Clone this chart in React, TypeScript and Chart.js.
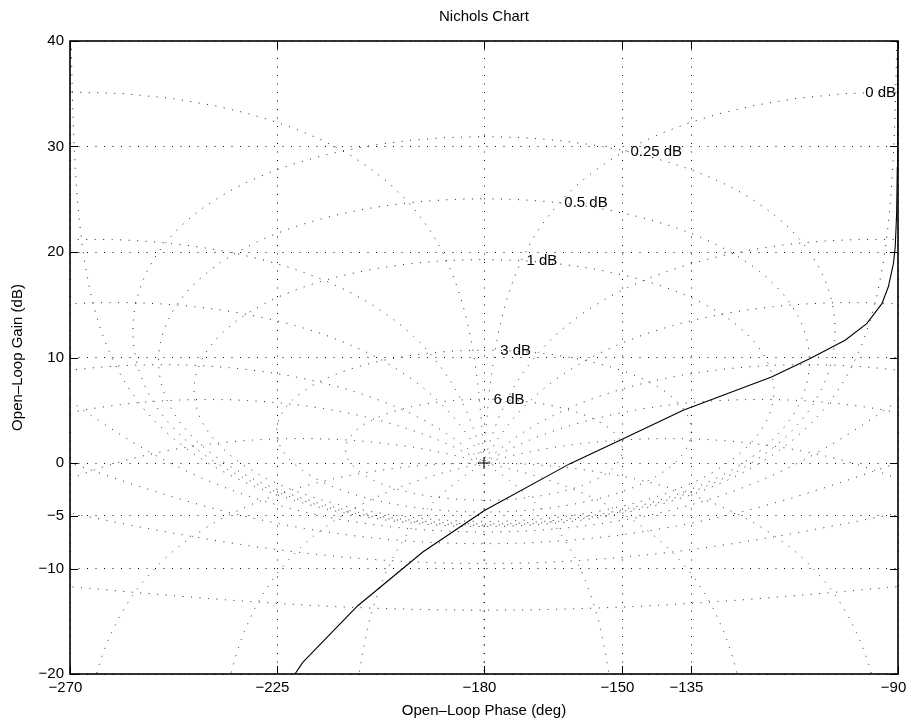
import React, { useEffect, useRef } from "react";
import { Chart, registerables } from "chart.js";

Chart.register(...registerables);

// ---- Axis ticks ----
const phaseTicks = [-270, -225, -180, -150, -135, -90];
const gainTicks = [-20, -10, -5, 0, 10, 20, 30, 40];

// ---- Open-loop response ----
const openLoopPhaseDeg = [-221.1, -219.4, -207.5, -193.3, -179.9, -161.3, -150.2, -136.7, -117.5, -109.1, -101.5, -96.8, -93.5, -92.1, -91.0, -90.6, -90.3, -90.15, -90.05, -90.0];
const openLoopGainDb = [-20.0, -18.9, -13.55, -8.44, -4.5, -0.06, 2.2, 5.0, 8.15, 9.9, 11.63, 13.21, 15.1, 16.7, 18.9, 20.5, 23.6, 28.0, 35.0, 40.0];

// ---- Nichols grid levels ----
const closedLoopGainDb = [6, 3, 1, 0.5, 0.25, 0, -1, -3, -6, -12, -20, -40];
const closedLoopPhaseDeg = [-1, -5, -10, -20, -30, -50, -90, -120, -150, -180];
const labelledGainDb = [6, 3, 1, 0.5, 0.25, 0];
const labelAlongPhaseDeg = -1;

const FONT = '"Liberation Sans", Arial, Helvetica, sans-serif';

type Pt = { x: number; y: number };

function openLoopFromClosed(mag: number, angDeg: number) {
  const a = (angDeg * Math.PI) / 180;
  const tr = mag * Math.cos(a);
  const ti = mag * Math.sin(a);
  const dr = 1 - tr;
  const di = -ti;
  const den = dr * dr + di * di;
  const lr = (tr * dr + ti * di) / den;
  const li = (ti * dr - tr * di) / den;
  return {
    gainDb: 20 * Math.log10(Math.hypot(lr, li)),
    phaseDeg: (Math.atan2(li, lr) * 180) / Math.PI,
  };
}

function toWindow(p: number) {
  let q = p % 360;
  if (q > 0) q -= 360;
  if (q <= -360) q += 360;
  return q;
}

function unwrapNext(prev: number, p: number) {
  let q = p;
  while (q - prev > 180) q -= 360;
  while (q - prev < -180) q += 360;
  return q;
}

function gainContour(db: number): Pt[] {
  const M = Math.pow(10, db / 20);
  const pts: Pt[] = [];
  let prev: number | null = null;
  for (let k = 0; k <= 1440; k++) {
    if (db === 0 && (k === 0 || k === 1440)) continue;
    const th = -k * 0.25;
    const r = openLoopFromClosed(M, th);
    if (!isFinite(r.gainDb) || !isFinite(r.phaseDeg)) continue;
    const ph = prev === null ? toWindow(r.phaseDeg) : unwrapNext(prev, r.phaseDeg);
    prev = ph;
    pts.push({ x: ph, y: r.gainDb });
  }
  return pts;
}

function phaseContour(psi: number): Pt[] {
  const pts: Pt[] = [];
  let prev: number | null = null;
  const N = 4000;
  for (let k = 0; k <= N; k++) {
    const m = Math.pow(10, -3 + (6 * k) / N);
    const r = openLoopFromClosed(m, psi);
    if (!isFinite(r.gainDb) || !isFinite(r.phaseDeg)) continue;
    const ph = prev === null ? toWindow(r.phaseDeg) : unwrapNext(prev, r.phaseDeg);
    prev = ph;
    pts.push({ x: ph, y: r.gainDb });
  }
  return pts;
}

function fmt(v: number) {
  return v < 0 ? "\u2212" + Math.abs(v) : String(v);
}

const decorPlugin = {
  id: "nicholsDecor",
  afterDatasetsDraw(chart: any) {
    const { ctx, chartArea, scales } = chart;
    const xs = scales.x;
    const ys = scales.y;
    ctx.save();
    ctx.beginPath();
    ctx.rect(chartArea.left, chartArea.top, chartArea.right - chartArea.left, chartArea.bottom - chartArea.top);
    ctx.clip();
    ctx.font = "15px " + FONT;
    ctx.fillStyle = "#000";
    ctx.textBaseline = "middle";
    ctx.textAlign = "left";
    for (const db of labelledGainDb) {
      const M = Math.pow(10, db / 20);
      const r = openLoopFromClosed(M, labelAlongPhaseDeg);
      const ph = toWindow(r.phaseDeg);
      const px = xs.getPixelForValue(ph);
      const py = ys.getPixelForValue(r.gainDb);
      if (px < chartArea.left - 1 || px > chartArea.right + 1 || py < chartArea.top || py > chartArea.bottom) continue;
      const text = db + " dB";
      const w = ctx.measureText(text).width;
      let tx = px + 5;
      if (tx + w > chartArea.right - 2) tx = chartArea.right - 2 - w;
      ctx.fillText(text, tx, py + 0.5);
    }
    ctx.restore();
  },
  afterDraw(chart: any) {
    const { ctx, chartArea, scales } = chart;
    const xs = scales.x;
    const ys = scales.y;
    const { left, right, top, bottom } = chartArea;
    ctx.save();
    // inward ticks
    ctx.strokeStyle = "#000";
    ctx.lineWidth = 1;
    ctx.beginPath();
    for (const v of phaseTicks) {
      const px = Math.round(xs.getPixelForValue(v)) + 0.5;
      ctx.moveTo(px, bottom);
      ctx.lineTo(px, bottom - 8);
      ctx.moveTo(px, top);
      ctx.lineTo(px, top + 8);
    }
    for (const v of gainTicks) {
      const py = Math.round(ys.getPixelForValue(v)) + 0.5;
      ctx.moveTo(left, py);
      ctx.lineTo(left + 8, py);
      ctx.moveTo(right, py);
      ctx.lineTo(right - 8, py);
    }
    ctx.stroke();
    // box
    ctx.lineWidth = 1.6;
    ctx.strokeRect(left, top, right - left, bottom - top);
    // titles
    ctx.fillStyle = "#000";
    ctx.font = "15px " + FONT;
    ctx.textAlign = "center";
    ctx.textBaseline = "middle";
    const cx = (left + right) / 2;
    ctx.fillText("Nichols Chart", cx, 16.5);
    ctx.fillText("Open\u2013Loop Phase (deg)", cx, 711);
    ctx.translate(17.5, (top + bottom) / 2);
    ctx.rotate(-Math.PI / 2);
    ctx.fillText("Open\u2013Loop Gain (dB)", 0, 0);
    ctx.restore();
  },
};

export default function App() {
  const ref = useRef<HTMLCanvasElement>(null);

  useEffect(() => {
    const canvas = ref.current;
    if (!canvas) return;

    const gridStyle = {
      borderColor: "rgba(20,20,20,0.95)",
      borderWidth: 1,
      borderDash: [1, 7.5],
      pointRadius: 0,
      showLine: true,
      fill: false,
      tension: 0,
      order: 5,
    };

    const datasets: any[] = [];
    for (const db of closedLoopGainDb) {
      datasets.push({ ...gridStyle, label: db + " dB", data: gainContour(db) });
    }
    for (const psi of closedLoopPhaseDeg) {
      const pts = phaseContour(psi);
      datasets.push({ ...gridStyle, label: psi + " deg", data: pts });
      if (psi !== -180) {
        datasets.push({
          ...gridStyle,
          label: -360 - psi + " deg",
          data: pts.map((p) => ({ x: -360 - p.x, y: p.y })),
        });
      }
    }
    datasets.push({
      label: "open loop",
      data: openLoopPhaseDeg.map((x, i) => ({ x, y: openLoopGainDb[i] })),
      borderColor: "#000",
      borderWidth: 1.1,
      pointRadius: 0,
      showLine: true,
      fill: false,
      tension: 0,
      order: 0,
    });
    datasets.push({
      label: "critical point",
      data: [{ x: -180, y: 0 }],
      pointStyle: "cross",
      pointRadius: 6,
      borderColor: "#000",
      backgroundColor: "#000",
      borderWidth: 1,
      showLine: false,
      order: 1,
    });

    const chart = new Chart(canvas, {
      type: "scatter",
      data: { datasets },
      options: {
        animation: false,
        responsive: false,
        devicePixelRatio: 1,
        events: [],
        layout: { padding: { top: 41, right: 13, left: 0, bottom: 0 } },
        plugins: { legend: { display: false }, tooltip: { enabled: false }, title: { display: false } },
        scales: {
          x: {
            type: "linear",
            position: "bottom",
            min: -270,
            max: -90,
            afterBuildTicks: (s: any) => {
              s.ticks = phaseTicks.map((v) => ({ value: v }));
            },
            afterFit: (s: any) => {
              s.height = 50;
              s.paddingLeft = 0;
              s.paddingRight = 0;
            },
            ticks: {
              autoSkip: false,
              maxRotation: 0,
              minRotation: 0,
              padding: 5,
              labelOffset: -4.5,
              color: "#000",
              font: { family: FONT, size: 15 },
              callback: (v: any) => fmt(Number(v)),
            },
            grid: { color: "rgba(0,0,0,0.95)", lineWidth: 1, drawTicks: false },
            border: { display: false, dash: [1, 7.5] },
          },
          y: {
            type: "linear",
            position: "left",
            min: -20,
            max: 40,
            afterBuildTicks: (s: any) => {
              s.ticks = gainTicks.map((v) => ({ value: v }));
            },
            afterFit: (s: any) => {
              s.width = 70;
              s.paddingTop = 0;
              s.paddingBottom = 0;
            },
            ticks: {
              autoSkip: false,
              padding: 6,
              color: "#000",
              font: { family: FONT, size: 15 },
              callback: (v: any) => fmt(Number(v)),
            },
            grid: { color: "rgba(0,0,0,0.95)", lineWidth: 1, drawTicks: false },
            border: { display: false, dash: [1, 7.5] },
          },
        },
      } as any,
      plugins: [decorPlugin],
    });

    return () => chart.destroy();
  }, []);

  return (
    <div style={{ position: "absolute", left: 0, top: 0, width: 911, height: 724, background: "#fff" }}>
      <canvas ref={ref} width={911} height={724} style={{ display: "block", width: 911, height: 724 }} />
    </div>
  );
}
